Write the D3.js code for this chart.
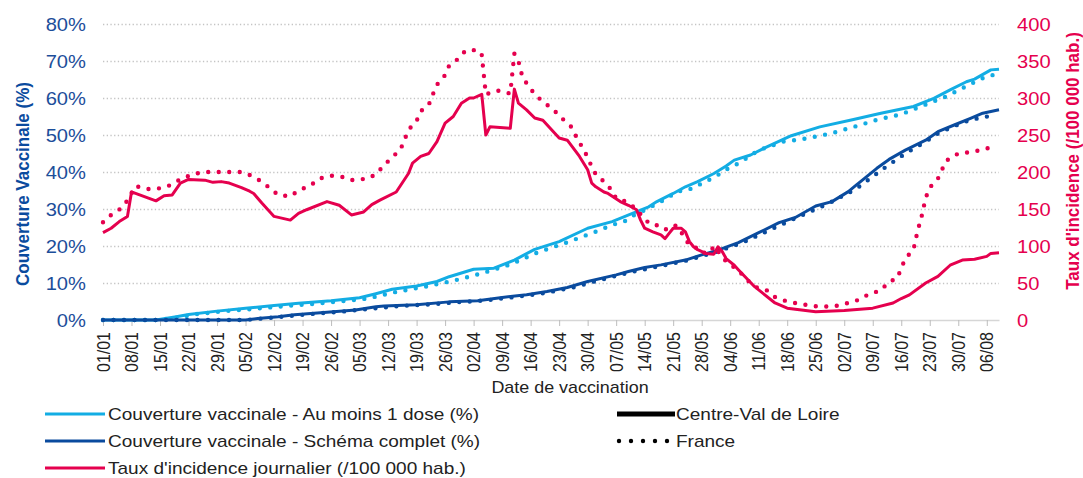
<!DOCTYPE html>
<html>
<head>
<meta charset="utf-8">
<script src="https://cdn.jsdelivr.net/npm/d3@7"></script>
<style>
  body { margin: 0; background: #fff; }
  svg text { font-family: "Liberation Sans", Arial, sans-serif; }
</style>
</head>
<body>
<svg id="chart" width="1083" height="478"></svg>
<script>
// ---- data (2021, dates as MM-DD) ----
const firstDay = "01-01";
const lastDay = "08-09";

const leftTicks = [0, 10, 20, 30, 40, 50, 60, 70, 80];
const rightTicks = [0, 50, 100, 150, 200, 250, 300, 350, 400];

// taux d'incidence journalier (/100 000 hab.)
const incidenceCVL = [
  ["01-01",118],["01-03",124],["01-05",133],["01-07",140],["01-08",173],["01-09",171],["01-11",167],
  ["01-14",161],["01-16",168],["01-18",169],["01-20",185],["01-22",190],["01-26",189],["01-28",186],
  ["01-30",187],["02-01",185],["02-04",179],["02-06",174],["02-07",171],["02-09",158],["02-12",140],
  ["02-16",135],["02-18",144],["02-20",149],["02-25",160],["02-28",155],["03-03",142],["03-06",146],
  ["03-08",156],["03-10",162],["03-14",173],["03-17",198],["03-18",212],["03-20",221],["03-22",225],
  ["03-24",241],["03-26",266],["03-28",275],["03-30",293],["04-01",300],["04-02",300],["04-04",305],
  ["04-05",250],["04-06",261],["04-11",259],["04-12",312],["04-13",293],["04-15",284],["04-17",273],
  ["04-19",270],["04-23",246],["04-25",243],["04-28",221],["04-30",203],["05-01",185],["05-02",180],
  ["05-04",173],["05-05",171],["05-08",160],["05-10",155],["05-12",149],["05-13",135],["05-14",124],
  ["05-16",119],["05-18",115],["05-19",110],["05-20",117],["05-21",124],["05-23",124],["05-24",119],
  ["05-25",106],["05-26",99],["05-27",95],["05-29",90],["05-31",89],["06-01",99],["06-02",93],
  ["06-03",83],["06-05",74],["06-06",68],["06-10",45],["06-15",23],["06-18",16],["06-21",14],
  ["06-25",11],["07-02",13],["07-09",16],["07-14",23],["07-16",29],["07-18",34],["07-22",50],
  ["07-25",59],["07-28",74],["07-31",81],["08-03",82],["08-06",86],["08-07",90],["08-09",91]
];
const incidenceFrance = [
  ["01-01",132],["01-03",142],["01-06",153],["01-07",162],["01-09",181],["01-12",177],["01-15",178],
  ["01-17",181],["01-20",190],["01-23",197],["01-26",200],["01-29",200],["02-01",200],["02-04",200],
  ["02-06",196],["02-09",187],["02-11",178],["02-13",169],["02-16",167],["02-18",175],["02-21",182],
  ["02-23",191],["02-26",195],["03-01",193],["03-03",189],["03-07",191],["03-09",197],["03-11",209],
  ["03-13",220],["03-15",230],["03-16",243],["03-17",257],["03-19",269],["03-20",282],["03-22",291],
  ["03-23",305],["03-24",318],["03-26",331],["03-27",344],["03-29",352],["03-31",364],["04-03",365],
  ["04-04",358],["04-05",305],["04-08",310],["04-11",306],["04-12",360],["04-13",350],["04-14",328],
  ["04-16",312],["04-18",300],["04-20",291],["04-22",282],["04-24",271],["04-26",261],["04-27",250],
  ["04-29",230],["04-30",220],["05-01",207],["05-02",197],["05-04",187],["05-06",175],["05-07",164],
  ["05-10",159],["05-12",149],["05-15",131],["05-16",131],["05-19",122],["05-21",128],["05-22",127],
  ["05-25",101],["05-27",97],["05-28",91],["05-30",91],["05-31",100],["06-02",86],["06-03",79],
  ["06-06",67],["06-08",55],["06-10",45],["06-13",40],["06-15",31],["06-18",25],["06-21",22],
  ["06-24",19],["06-27",18],["06-30",19],["07-03",23],["07-06",28],["07-08",35],["07-11",40],
  ["07-13",52],["07-15",56],["07-16",70],["07-17",83],["07-19",95],["07-20",120],["07-21",140],
  ["07-22",165],["07-23",179],["07-25",191],["07-26",203],["07-27",215],["07-30",225],["08-02",227],
  ["08-05",230],["08-08",235]
];

// couverture vaccinale - au moins 1 dose (%)
const oneDoseCVL = [
  ["01-01",0],["01-14",0],["01-19",0.9],["01-22",1.5],["01-29",2.4],["02-05",3.2],["02-12",3.9],
  ["02-18",4.5],["02-26",5.2],["03-05",6.0],["03-09",7.1],["03-13",8.3],["03-19",9.2],["03-24",10.4],
  ["03-27",11.7],["04-02",13.7],["04-07",14.0],["04-12",16.2],["04-17",19.1],["04-23",21.2],
  ["04-30",24.8],["05-06",26.6],["05-11",28.8],["05-15",30.6],["05-17",32.0],["05-21",34.2],
  ["05-24",36.0],["05-27",37.4],["05-31",39.6],["06-03",41.6],["06-05",43.2],["06-09",44.6],
  ["06-13",46.8],["06-19",49.8],["06-26",52.2],["07-04",54.1],["07-11",55.9],["07-19",57.7],
  ["07-24",59.9],["07-28",62.2],["08-01",64.4],["08-03",65.1],["08-07",67.6],["08-09",67.8]
];
const oneDoseFrance = [
  ["01-01",0],["01-14",0],["01-19",0.6],["01-24",1.6],["01-31",2.4],["02-07",3.0],["02-14",3.7],
  ["02-21",4.3],["02-28",5.0],["03-07",5.8],["03-14",7.6],["03-21",9.0],["03-28",10.6],["04-04",12.6],
  ["04-11",15.0],["04-18",18.4],["04-25",21.0],["05-03",24.3],["05-06",25.7],["05-09",26.6],
  ["05-11",28.1],["05-14",29.7],["05-19",32.6],["05-22",34.7],["05-25",35.3],["05-29",37.4],
  ["06-01",39.2],["06-04",41.3],["06-06",42.3],["06-11",45.9],["06-17",48.2],["06-23",49.1],
  ["06-29",50.5],["07-05",52.4],["07-10",54.1],["07-16",55.6],["07-21",57.8],["07-27",60.4],
  ["08-01",63.2],["08-06",65.9],["08-08",66.3]
];

// couverture vaccinale - schema complet (%)
const completeCVL = [
  ["01-01",0],["02-05",0],["02-08",0.4],["02-13",0.9],["02-17",1.4],["02-25",2.1],["03-04",2.7],
  ["03-09",3.6],["03-11",3.8],["03-19",4.1],["03-27",4.9],["04-03",5.2],["04-09",6.1],["04-15",6.8],
  ["04-20",7.7],["04-25",8.8],["04-30",10.4],["05-07",12.2],["05-10",13.1],["05-14",14.2],
  ["05-18",14.9],["05-24",16.2],["05-28",17.6],["06-01",18.9],["06-06",20.9],["06-11",23.6],
  ["06-16",26.3],["06-20",27.7],["06-25",30.8],["06-29",32.0],["07-03",34.7],["07-05",36.5],
  ["07-06",37.4],["07-10",41.0],["07-13",43.4],["07-17",45.9],["07-22",48.6],["07-25",50.9],
  ["07-29",52.7],["08-02",54.5],["08-05",55.9],["08-09",56.8]
];
const completeFrance = [
  ["01-01",0],["02-05",0],["02-10",0.5],["02-15",1.0],["02-22",1.7],["03-01",2.3],["03-08",3.1],
  ["03-15",3.8],["03-22",4.2],["03-29",4.8],["04-05",5.3],["04-12",6.2],["04-19",7.2],["04-26",8.7],
  ["05-03",10.8],["05-10",12.8],["05-17",14.4],["05-24",16.0],["05-31",18.2],["06-07",20.9],
  ["06-14",24.5],["06-21",28.0],["06-28",31.4],["07-05",35.5],["07-12",41.2],["07-17",45.0],
  ["07-22",48.2],["07-25",50.4],["07-29",52.4],["08-02",54.1],["08-08",55.4]
];

const seriesLabels = [
  "Couverture vaccinale - Au moins 1 dose (%)",
  "Couverture vaccinale - Schéma complet (%)",
  "Taux d'incidence journalier (/100 000 hab.)"
];
const zoneLabels = ["Centre-Val de Loire", "France"];

// ---- chart ----
const lightBlue = "#13ADE4";
const darkBlue = "#0A4B9E";
const pink = "#E5004E";
const stretch = 1.12;   // the text in the picture is a bit wide

const svg = d3.select("svg#chart");
const width = +svg.attr("width");
const height = +svg.attr("height");
const margin = { top: 24, right: 84, bottom: 158, left: 103 };
const chartWidth = width - margin.left - margin.right;
const chartHeight = height - margin.top - margin.bottom;

const parse = s => d3.timeParse("%Y-%m-%d")("2021-" + s);

const x = d3.scaleTime().domain([parse(firstDay), parse(lastDay)]).range([0, chartWidth]);
const yLeft = d3.scaleLinear().domain([0, 80]).range([chartHeight, 0]);
const yRight = d3.scaleLinear().domain([0, 400]).range([chartHeight, 0]);

let annotations = svg.append("g").attr("id", "annotations");
let chartArea = svg.append("g").attr("id", "lines")
  .attr("transform", `translate(${margin.left},${margin.top})`);

// gridlines
let grid = annotations.append("g")
  .attr("class", "y gridlines")
  .attr("transform", `translate(${margin.left},${margin.top})`)
  .call(d3.axisLeft(yLeft).tickValues(leftTicks.filter(d => d > 0)).tickSize(-chartWidth).tickFormat(""));
grid.select(".domain").remove();
grid.selectAll("line")
  .attr("stroke", "#c4c4c4")
  .attr("stroke-width", 1.3)
  .attr("stroke-dasharray", "1.3,2.4");

// left axis
let leftAxis = annotations.append("g")
  .attr("class", "y axis")
  .attr("transform", `translate(${margin.left},${margin.top})`)
  .call(d3.axisLeft(yLeft).tickValues(leftTicks).tickSize(0).tickFormat(d => d + "%"));
leftAxis.select(".domain").remove();
leftAxis.selectAll("text")
  .attr("x", null).attr("dy", "0.36em")
  .attr("transform", `translate(-17,0) scale(${stretch},1)`)
  .attr("fill", "#1C4E9A")
  .style("font-size", "18px");

// right axis
let rightAxis = annotations.append("g")
  .attr("class", "y axis right")
  .attr("transform", `translate(${margin.left + chartWidth},${margin.top})`)
  .call(d3.axisRight(yRight).tickValues(rightTicks).tickSize(0));
rightAxis.select(".domain").remove();
rightAxis.selectAll("text")
  .attr("x", null).attr("dy", "0.36em")
  .attr("text-anchor", "start")
  .attr("transform", `translate(18,0) scale(${stretch},1)`)
  .attr("fill", pink)
  .style("font-size", "18px");

// bottom axis, one tick a week
const weekTicks = d3.timeFriday.range(parse(firstDay), parse(lastDay));
let bottomAxis = annotations.append("g")
  .attr("class", "x axis")
  .attr("transform", `translate(${margin.left},${margin.top + chartHeight})`)
  .call(d3.axisBottom(x).tickValues(weekTicks).tickFormat(d3.timeFormat("%d/%m")).tickSize(6).tickSizeOuter(0));
bottomAxis.select(".domain").attr("stroke", "#d6d6d6").attr("stroke-width", 1.6);
bottomAxis.selectAll("line").attr("stroke", "#bdbdbd");
bottomAxis.selectAll("text")
  .attr("x", null).attr("y", null).attr("dy", null)
  .attr("text-anchor", "end")
  .attr("transform", `translate(6,12) scale(${stretch},1) rotate(-90)`)
  .attr("fill", "#222")
  .style("font-size", "16px");

// axis titles
annotations.append("text")
  .attr("transform", `translate(29,184) scale(${stretch},1) rotate(-90)`)
  .attr("text-anchor", "middle")
  .attr("fill", darkBlue)
  .style("font-size", "17px").style("font-weight", "bold")
  .text("Couverture Vaccinale (%)");
annotations.append("text")
  .attr("transform", `translate(1079,161) scale(${stretch},1) rotate(-90)`)
  .attr("text-anchor", "middle")
  .attr("fill", pink)
  .style("font-size", "17px").style("font-weight", "bold")
  .text("Taux d'incidence (/100 000 hab.)");
annotations.append("text")
  .attr("transform", `translate(570,387) scale(${stretch},1)`)
  .attr("text-anchor", "middle").attr("dy", "0.35em")
  .attr("fill", "#222")
  .style("font-size", "16px")
  .text("Date de vaccination");

// lines
const lineLeft = d3.line().x(d => x(parse(d[0]))).y(d => yLeft(d[1]));
const lineRight = d3.line().x(d => x(parse(d[0]))).y(d => yRight(d[1]));

function drawSolid(data, gen, color) {
  chartArea.append("path").datum(data)
    .attr("fill", "none").attr("stroke", color)
    .attr("stroke-width", 3).attr("stroke-linejoin", "round")
    .attr("d", gen);
}
function drawDotted(data, gen, color) {
  chartArea.append("path").datum(data)
    .attr("fill", "none").attr("stroke", color)
    .attr("stroke-width", 4.4).attr("stroke-linecap", "round")
    .attr("stroke-dasharray", "0,10.5")
    .attr("d", gen);
}

drawDotted(oneDoseFrance, lineLeft, lightBlue);
drawSolid(oneDoseCVL, lineLeft, lightBlue);
drawDotted(completeFrance, lineLeft, darkBlue);
drawSolid(completeCVL, lineLeft, darkBlue);
drawDotted(incidenceFrance, lineRight, pink);
drawSolid(incidenceCVL, lineRight, pink);

// legend
let legend = svg.append("g").attr("id", "legend");
const legendColors = [lightBlue, darkBlue, pink];
const rowY = [414, 441, 468];
seriesLabels.forEach((label, i) => {
  legend.append("line")
    .attr("x1", 45).attr("x2", 105).attr("y1", rowY[i]).attr("y2", rowY[i])
    .attr("stroke", legendColors[i]).attr("stroke-width", 3.2);
  legend.append("text")
    .attr("transform", `translate(108,${rowY[i]}) scale(${stretch},1)`)
    .attr("dy", "0.35em").attr("fill", "#222")
    .style("font-size", "17px")
    .text(label);
});
legend.append("line")
  .attr("x1", 617).attr("x2", 675).attr("y1", rowY[0]).attr("y2", rowY[0])
  .attr("stroke", "#000").attr("stroke-width", 5);
legend.append("line")
  .attr("x1", 619).attr("x2", 668).attr("y1", rowY[1]).attr("y2", rowY[1])
  .attr("stroke", "#000").attr("stroke-width", 4.4)
  .attr("stroke-linecap", "round").attr("stroke-dasharray", "0,12");
zoneLabels.forEach((label, i) => {
  legend.append("text")
    .attr("transform", `translate(${i === 0 ? 676 : 676},${rowY[i]}) scale(${stretch},1)`)
    .attr("dy", "0.35em").attr("fill", "#222")
    .style("font-size", "17px")
    .text(label);
});
</script>
</body>
</html>
